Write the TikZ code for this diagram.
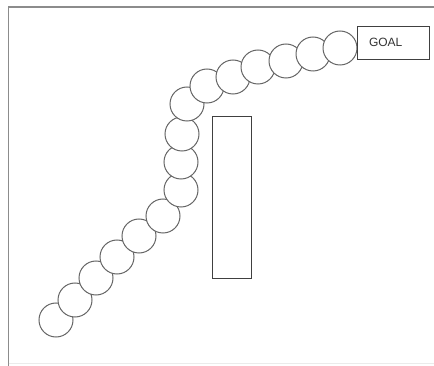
\documentclass[tikz,border=0pt]{standalone}
\usepackage{fontspec}
\setmainfont{Liberation Sans}
\begin{document}
\begin{tikzpicture}[
        x=1pt, y=-1pt,
        bead/.style={
            draw=black!60,
            fill=white,
            circle,
            line width=1pt,
            minimum size=34pt,
            inner sep=0pt
        },
        goalbox/.style={
            draw=black!75,
            line width=0.9pt,
            minimum width=72pt,
            minimum height=33pt,
            text width=48pt,
            inner xsep=12pt,
            align=left,
            text=black!80,
            font=\fontsize{12}{14}\selectfont
        },
        wall/.style={
            draw=black!75,
            line width=0.9pt
        }
    ]
        \useasboundingbox (0,0) rectangle (434,366);

        % --- Cadre ---
        \draw[black!45, line width=1.6pt] (434,7) -- (8.5,7) -- (8.5,366);
        \draw[black!8, line width=0.8pt] (8.5,363) -- (434,363);

        % --- Chaîne de cercles ---
        \foreach \i/\px/\py in {1/56/320, 2/75/300, 3/96/278, 4/117/257,
                5/139/236, 6/163/216, 7/181/190, 8/181/162, 9/182/134,
                10/187/104, 11/207/86, 12/233/77, 13/258/67, 14/286/61,
                15/313/54, 16/340/48} {
            \node[bead] (c\i) at (\px,\py) {};
        }

        % --- But ---
        \node[goalbox] (goal) at (393,42.5) {GOAL};

        % --- Obstacle ---
        \draw[wall] (212,116) rectangle (251,278);
    \end{tikzpicture}
\end{document}
